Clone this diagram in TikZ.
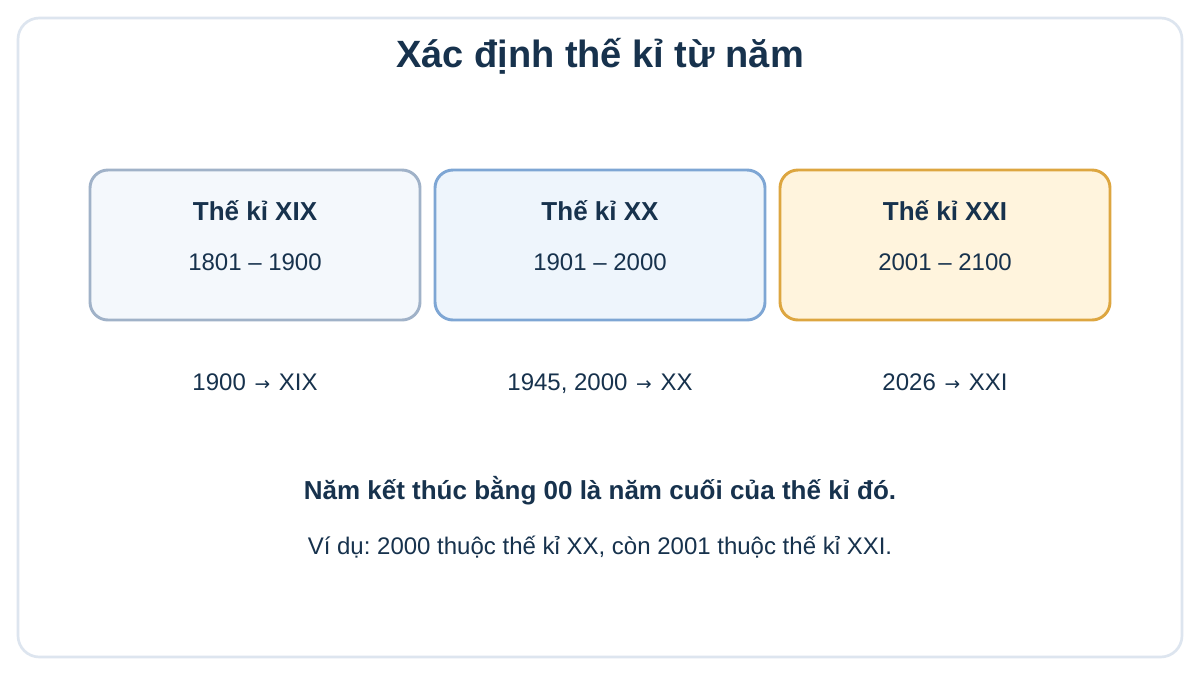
\documentclass[tikz,border=0pt]{standalone}
\usepackage{fontspec}
\setmainfont{Liberation Sans}
\newfontfamily\arrowfont{DejaVu Sans}
\definecolor{ink}{HTML}{17324D}
\definecolor{frame}{HTML}{DDE5EF}
\definecolor{greyline}{HTML}{A0B2C8}
\definecolor{greyfill}{HTML}{F4F8FC}
\definecolor{blueline}{HTML}{7EA6D4}
\definecolor{bluefill}{HTML}{EEF5FC}
\definecolor{goldline}{HTML}{DDA640}
\definecolor{goldfill}{HTML}{FFF4DD}
\newcommand{\toarrow}{\hspace{1.5pt} {\arrowfont\fontsize{14}{18}\selectfont →} \hspace{1.5pt}}
\frenchspacing

\begin{document}
\begin{tikzpicture}[x=0.75pt, y=-0.75pt,
  century/.style={rounded corners=13.5pt, line width=2.2pt},
  head/.style={text=ink, font=\fontsize{19.5}{23}\selectfont\bfseries},
  years/.style={text=ink, font=\fontsize{18}{22}\selectfont},
  sample/.style={text=ink, font=\fontsize{18}{22}\selectfont, text height=13pt, text depth=4pt}]

 % background and frame
  \useasboundingbox (0,0) rectangle (1200,675);
  \fill[white] (0,0) rectangle (1200,675);
  \draw[frame, line width=2pt, rounded corners=16pt] (18,18) rectangle (1182,657);
\node[text=ink, font=\fontsize{28.5}{34}\selectfont\bfseries] (title) at (600,56) {Xác định thế kỉ từ năm};

  % centuries
\draw[century, draw=greyline, fill=greyfill] (90,170) rectangle (420,320);
\draw[century, draw=blueline, fill=bluefill] (435,170) rectangle (765,320);
\draw[century, draw=goldline, fill=goldfill] (780,170) rectangle (1110,320);
\node[head] (h19) at (255,211) {Thế kỉ XIX};
\node[head] (h20) at (600,211) {Thế kỉ XX};
\node[head] (h21) at (945,211) {Thế kỉ XXI};
\node[years] (r19) at (255,262) {1801 – 1900};
\node[years] (r20) at (600,262) {1901 – 2000};
\node[years] (r21) at (945,262) {2001 – 2100};

  % examples
\node[sample] (e19) at (255,384) {1900\toarrow XIX};
\node[sample] (e20) at (600,384) {1945, 2000\toarrow XX};
\node[sample] (e21) at (945,384) {2026\toarrow XXI};

  % rule
\node[text=ink, font=\fontsize{19.5}{23}\selectfont\bfseries] (rule) at (600,491) {Năm kết thúc bằng 00 là năm cuối của thế kỉ đó.};
\node[text=ink, font=\fontsize{18}{22}\selectfont] (note) at (600,547) {Ví dụ: 2000 thuộc thế kỉ XX, còn 2001 thuộc thế kỉ XXI.};
\end{tikzpicture}
\end{document}
